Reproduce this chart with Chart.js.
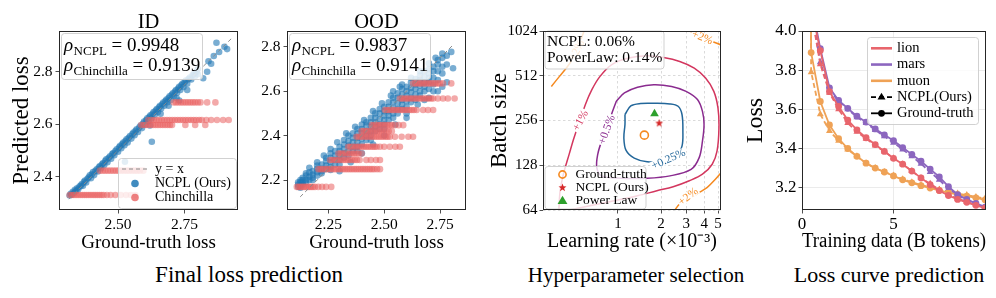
<!DOCTYPE html>
<html>
<head>
<meta charset="utf-8">
<script src="https://cdn.jsdelivr.net/npm/chart.js@4.4.1/dist/chart.umd.min.js"></script>
<style>
  body { margin: 0; background: #fff; }
  #wrap { position: relative; width: 996px; height: 298px; overflow: hidden; font-family: 'Liberation Serif', 'Times New Roman', serif; }
  canvas { position: absolute; top: 0; }
  .ttl { position: absolute; top: 10.5px; font-size: 20.5px; line-height: 1; transform: translateX(-50%); white-space: nowrap; }
  .cap { position: absolute; top: 263.5px; font-size: 22px; line-height: 1; transform: translateX(-50%); white-space: nowrap; }
</style>
</head>
<body>
<div id="wrap">
  <canvas id="c1" width="245" height="260" style="left:0px"></canvas>
  <canvas id="c2" width="235" height="260" style="left:245px"></canvas>
  <canvas id="c3" width="260" height="260" style="left:480px"></canvas>
  <canvas id="c4" width="256" height="260" style="left:740px"></canvas>
  <div class="ttl" style="left:148.5px">ID</div>
  <div class="ttl" style="left:376.5px">OOD</div>
  <div class="cap" style="left:249px;font-size:23px;top:263px">Final loss prediction</div>
  <div class="cap" style="left:636px;font-size:21px;top:264.5px">Hyperparameter selection</div>
  <div class="cap" style="left:889px">Loss curve prediction</div>
</div>
<script>
// ---------- panel 1: ID ----------
const idDiag = [2.315, 2.93];
const idNcpl = [
  [2.318,2.328],[2.322,2.335],[2.326,2.331],[2.33,2.342],[2.334,2.338],[2.338,2.35],[2.342,2.345],[2.346,2.356],
  [2.35,2.352],[2.355,2.362],[2.36,2.366],[2.364,2.372],[2.368,2.365],[2.372,2.38],[2.376,2.385],[2.38,2.378],
  [2.385,2.392],[2.39,2.398],[2.394,2.405],[2.398,2.394],[2.402,2.41],[2.406,2.418],[2.41,2.406],[2.415,2.422],
  [2.42,2.428],[2.424,2.42],[2.428,2.436],[2.432,2.44],[2.436,2.432],[2.44,2.447],[2.444,2.452],[2.448,2.444],
  [2.452,2.46],[2.456,2.466],[2.46,2.455],[2.465,2.472],[2.47,2.478],[2.474,2.468],[2.478,2.486],[2.482,2.49],
  [2.486,2.482],[2.49,2.498],[2.495,2.504],[2.5,2.495],[2.504,2.512],[2.508,2.518],[2.512,2.508],[2.516,2.524],
  [2.52,2.53],[2.524,2.52],[2.528,2.536],[2.532,2.542],[2.536,2.53],[2.54,2.548],[2.545,2.555],[2.55,2.545],
  [2.554,2.562],[2.558,2.568],[2.562,2.558],[2.566,2.575],[2.57,2.58],[2.575,2.57],[2.58,2.588],[2.585,2.595],
  [2.59,2.585],[2.594,2.602],[2.598,2.61],[2.602,2.598],[2.606,2.616],[2.61,2.622],[2.614,2.61],[2.618,2.628],
  [2.622,2.634],[2.626,2.622],[2.63,2.64],[2.634,2.646],[2.638,2.636],[2.642,2.652],[2.646,2.658],[2.65,2.646],
  [2.654,2.664],[2.658,2.67],[2.662,2.66],[2.666,2.676],[2.67,2.682],[2.674,2.67],[2.678,2.688],[2.682,2.694],
  [2.686,2.684],[2.69,2.7],[2.694,2.706],[2.698,2.692],[2.702,2.712],[2.706,2.718],[2.71,2.706],[2.714,2.724],
  [2.718,2.73],[2.722,2.72],[2.726,2.736],[2.73,2.742],[2.734,2.73],[2.738,2.748],[2.742,2.754],[2.746,2.742],
  [2.75,2.76],[2.755,2.766],[2.76,2.754],[2.765,2.772],[2.77,2.778],[2.775,2.77],[2.78,2.786],[2.785,2.792],
  [2.79,2.784],[2.795,2.8],[2.8,2.79],[2.627,2.533],[2.526,2.457],[2.82,2.775],[2.835,2.8],[2.85,2.83],
  [2.86,2.86],[2.87,2.91],[2.88,2.875],[2.9,2.895],[2.91,2.886],[2.84,2.84],[2.73,2.69],[2.72,2.70],
  [2.80,2.81],[2.76,2.73],[2.69,2.67],[2.66,2.64],[2.62,2.595]
];
const idChinLevels = [2.330, 2.423, 2.597, 2.616, 2.683];
const idChinX = [
  [2.318,2.326,2.334,2.342,2.35,2.358,2.366,2.374,2.382,2.39,2.398,2.406,2.414,2.422,2.43,2.438,2.446,2.458,2.472,2.49,2.51,2.53,2.548,2.565],
  [2.432,2.442,2.452,2.462,2.472,2.482,2.492,2.502,2.512,2.522,2.532,2.542,2.552,2.562,2.572,2.582,2.595],
  [2.587,2.596,2.605,2.614,2.623,2.632,2.641,2.65,2.659,2.668,2.677,2.686,2.695,2.703,2.753,2.79,2.828],
  [2.614,2.624,2.634,2.644,2.654,2.664,2.674,2.684,2.694,2.704,2.714,2.724,2.734,2.744,2.754,2.764,2.774,2.784,2.794,2.805,2.815,2.832,2.85,2.872,2.895,2.916],
  [2.709,2.718,2.727,2.736,2.745,2.754,2.763,2.772,2.781,2.79,2.8,2.81,2.835,2.866]
];
const idTicksX = [2.50, 2.75];
const idTicksY = [2.4, 2.6, 2.8];
const idRho = ['0.9948', '0.9139'];

// ---------- panel 2: OOD ----------
const oodDiag = [2.124, 2.808];
const oodNcpl = [
  [2.115,2.17],[2.115,2.18],[2.115,2.19],[2.125,2.175],[2.125,2.19],[2.125,2.2],[2.125,2.165],[2.135,2.18],
  [2.135,2.2],[2.135,2.21],[2.135,2.19],[2.15,2.19],[2.15,2.2],[2.15,2.22],[2.15,2.23],[2.165,2.2],[2.165,2.215],
  [2.165,2.255],[2.165,2.235],[2.18,2.21],[2.18,2.225],[2.18,2.24],[2.18,2.2],[2.2,2.22],[2.2,2.235],[2.2,2.25],
  [2.2,2.265],[2.22,2.23],[2.22,2.25],[2.22,2.27],[2.22,2.24],[2.24,2.25],[2.24,2.265],[2.24,2.285],[2.24,2.3],
  [2.26,2.26],[2.26,2.28],[2.26,2.3],[2.26,2.32],[2.26,2.245],[2.28,2.27],[2.28,2.29],[2.28,2.31],[2.28,2.33],
  [2.3,2.29],[2.3,2.31],[2.3,2.33],[2.3,2.35],[2.3,2.27],[2.32,2.3],[2.32,2.32],[2.32,2.34],[2.32,2.36],[2.32,2.38],
  [2.34,2.31],[2.34,2.33],[2.34,2.355],[2.34,2.375],[2.34,2.4],[2.36,2.33],[2.36,2.35],[2.36,2.37],[2.36,2.39],
  [2.36,2.41],[2.38,2.35],[2.38,2.37],[2.38,2.39],[2.38,2.41],[2.38,2.43],[2.38,2.33],[2.4,2.36],[2.4,2.385],
  [2.4,2.41],[2.4,2.43],[2.4,2.45],[2.42,2.38],[2.42,2.4],[2.42,2.42],[2.42,2.445],[2.42,2.46],[2.44,2.4],
  [2.44,2.42],[2.44,2.44],[2.44,2.46],[2.44,2.48],[2.44,2.38],[2.46,2.42],[2.46,2.44],[2.46,2.46],[2.46,2.48],
  [2.46,2.5],[2.48,2.43],[2.48,2.45],[2.48,2.475],[2.48,2.5],[2.48,2.52],[2.5,2.45],[2.5,2.47],[2.5,2.49],
  [2.5,2.51],[2.5,2.53],[2.5,2.43],[2.52,2.47],[2.52,2.49],[2.52,2.51],[2.52,2.53],[2.52,2.55],[2.54,2.48],
  [2.54,2.5],[2.54,2.525],[2.54,2.55],[2.54,2.57],[2.54,2.6],[2.56,2.5],[2.56,2.52],[2.56,2.545],[2.56,2.57],
  [2.56,2.59],[2.58,2.52],[2.58,2.54],[2.58,2.56],[2.58,2.585],[2.58,2.61],[2.58,2.63],[2.6,2.53],[2.6,2.555],
  [2.6,2.58],[2.6,2.6],[2.6,2.62],[2.6,2.5],[2.62,2.55],[2.62,2.57],[2.62,2.595],[2.62,2.615],[2.62,2.64],
  [2.64,2.56],[2.64,2.585],[2.64,2.61],[2.64,2.63],[2.64,2.655],[2.66,2.58],[2.66,2.6],[2.66,2.625],[2.66,2.65],
  [2.66,2.67],[2.68,2.6],[2.68,2.62],[2.68,2.64],[2.68,2.665],[2.68,2.69],[2.7,2.61],[2.7,2.64],[2.7,2.66],
  [2.7,2.68],[2.7,2.7],[2.7,2.57],[2.72,2.63],[2.72,2.66],[2.72,2.69],[2.72,2.71],[2.74,2.65],[2.74,2.69],
  [2.74,2.72],[2.74,2.74],[2.74,2.6],[2.76,2.68],[2.76,2.71],[2.76,2.75],[2.78,2.64],[2.78,2.76],[2.78,2.72],
  [2.808,2.703],[2.80,2.777],
  [2.2,2.28],[2.23,2.31],[2.26,2.34],[2.29,2.37],[2.33,2.41],[2.37,2.44],[2.41,2.47],[2.45,2.51],[2.49,2.545],
  [2.53,2.58],[2.57,2.62],[2.62,2.66],[2.66,2.69],[2.7,2.725],[2.73,2.75],[2.76,2.77],[2.45,2.36],[2.5,2.40],
  [2.55,2.45],[2.6,2.48],[2.65,2.54],[2.68,2.56],[2.72,2.6],[2.76,2.62],[2.3,2.24],[2.35,2.28],[2.4,2.32]
];
const oodChinLevels = [2.169, 2.249, 2.290, 2.319, 2.350, 2.395, 2.420, 2.447, 2.515, 2.567, 2.635];
const oodChinX = [
  [2.109,2.117,2.125,2.133,2.141,2.149,2.157,2.165,2.173,2.181,2.19,2.205,2.222,2.24,2.263],
  [2.205,2.215,2.225,2.235,2.245,2.255,2.265,2.275,2.285,2.295,2.305,2.315,2.325,2.335,2.345,2.355,2.365,2.375,2.385,2.395,2.405,2.415,2.425,2.435,2.445,2.455,2.468,2.481],
  [2.258,2.268,2.278,2.288,2.298,2.308,2.318,2.328,2.338,2.348,2.358,2.368,2.378,2.39,2.42,2.44,2.463,2.481],
  [2.295,2.305,2.315,2.325,2.335,2.345,2.355,2.365,2.375,2.385,2.399],
  [2.339,2.349,2.359,2.369,2.379,2.389,2.399,2.409,2.419,2.429,2.439,2.449,2.457,2.466,2.481,2.5,2.525,2.55,2.57],
  [2.376,2.386,2.396,2.406,2.416,2.426,2.436,2.446,2.456,2.466,2.476,2.486,2.496,2.506,2.515,2.525,2.548,2.578,2.608,2.629],
  [2.399,2.409,2.419,2.429,2.439,2.449,2.459,2.469,2.479,2.489,2.499,2.509,2.52,2.534],
  [2.444,2.454,2.464,2.474,2.484,2.494,2.504,2.514,2.524,2.534,2.548,2.565,2.585],
  [2.503,2.513,2.523,2.533,2.543,2.553,2.563,2.573,2.583,2.593,2.603,2.613,2.623,2.633,2.645,2.674,2.696,2.719],
  [2.57,2.58,2.59,2.6,2.61,2.62,2.63,2.64,2.65,2.66,2.67,2.68,2.69,2.7,2.71,2.719,2.74,2.763,2.785,2.815],
  [2.629,2.639,2.649,2.659,2.669,2.679,2.689,2.699,2.709,2.719,2.729,2.739,2.749,2.763,2.8]
];
const oodTicksX = [2.25, 2.50, 2.75];
const oodTicksY = [2.2, 2.4, 2.6, 2.8];
const oodRho = ['0.9837', '0.9141'];

// ---------- panel 3: hyperparameter contours (lr x1e-3, batch size) ----------
const lrTicks = [1, 2, 3, 4, 5];
const bsTicks = [64, 128, 256, 512, 1024];
const optGroundTruth = [[1.53, 204]];
const optNcpl = [[1.94, 247]];
const optPowerLaw = [[1.80, 284]];
const cont025 = [[1.12,281],[1.23,321],[1.44,333],[1.78,334],[2.31,331],[2.63,319],[2.80,281],[2.84,217],[2.80,172],
  [2.56,148],[2.08,137],[1.60,135],[1.30,143],[1.14,161],[1.10,196],[1.12,241],[1.12,281]];
const cont05 = [[0.974,345],[1.11,392],[1.37,428],[1.78,446],[2.37,434],[2.99,402],[3.59,354],[3.89,295],[3.99,241],
  [3.89,186],[3.69,144],[3.24,120],[2.31,108.6],[1.60,104.8],[1.05,104.8],[0.77,108.6],[0.712,123.5],[0.723,151.6],
  [0.77,186],[0.811,206],[0.855,241],[0.901,281],[0.974,345]];
const cont1 = [[0.387,64],[0.395,86],[0.416,111],[0.457,152],[0.494,196],[0.593,328],[0.658,413],[0.750,507],
  [0.901,607],[1.17,672],[1.60,697],[2.08,679],[2.70,639],[3.41,576],[4.09,494],[4.67,402],[4.99,311],[5.07,229],
  [4.92,160],[4.55,130],[3.89,111.4],[3.15,100.6],[2.43,91.7],[1.87,86.2],[1.37,79.8],[1.0,74.6],[0.731,70.2],
  [0.535,66],[0.457,64]];
const cont2a = [[0.343,434],[0.391,507],[0.445,591],[0.494,690],[0.535,825],[0.578,1013],[0.585,1024]];
const cont2b = [[3.15,1024],[3.50,988],[4.315,891],[5.24,825]];
const cont2c = [[5.24,114],[4.787,103],[4.205,90.8],[3.69,84],[3.15,76.5],[2.697,70.2],[2.494,64]];
const contLabels = [
  {t: '+0.25%', at: [2.25, 141], rot: -24, c: '#23679a'},
  {t: '+0.5%', at: [0.833, 222], rot: -70, c: '#8a2b8f'},
  {t: '+1%', at: [0.545, 256], rot: -62, c: '#d3365e'},
  {t: '+2%', at: [3.89, 930], rot: 22, c: '#f5891f'},
  {t: '+2%', at: [3.08, 79], rot: -38, c: '#f5891f'},
  {t: '+2%', at: [0.515, 760], rot: -62, c: '#f5891f'}
];

// ---------- panel 4: loss curves ----------
const tokens = [0, 0.5, 1, 1.5, 2, 2.5, 3, 3.5, 4, 4.5, 5, 5.5, 6, 6.5, 7, 7.5, 8, 8.5, 9, 9.5, 10];
const lionGT  = [10.8, 4.12, 3.90, 3.69, 3.615, 3.545, 3.495, 3.455, 3.42, 3.385, 3.35, 3.32, 3.285, 3.25, 3.215, 3.185, 3.16, 3.14, 3.125, 3.11, 3.095];
const lionNC  = [10.8, 4.10, 3.83, 3.685, 3.60, 3.53, 3.485, 3.45, 3.415, 3.385, 3.35, 3.32, 3.285, 3.25, 3.22, 3.19, 3.165, 3.145, 3.128, 3.112, 3.098];
const marsGT  = [10.8, 4.15, 3.91, 3.71, 3.645, 3.605, 3.565, 3.535, 3.50, 3.47, 3.44, 3.405, 3.37, 3.335, 3.295, 3.255, 3.205, 3.165, 3.14, 3.12, 3.10];
const marsNC  = [10.8, 4.12, 3.84, 3.70, 3.64, 3.60, 3.56, 3.53, 3.495, 3.462, 3.43, 3.395, 3.36, 3.322, 3.28, 3.24, 3.195, 3.16, 3.138, 3.12, 3.10];
const muonGT  = [10.8, 3.89, 3.64, 3.52, 3.45, 3.40, 3.36, 3.325, 3.30, 3.28, 3.26, 3.24, 3.225, 3.21, 3.198, 3.186, 3.175, 3.165, 3.157, 3.148, 3.138];
const muonNC  = [10.8, 3.79, 3.575, 3.49, 3.44, 3.395, 3.36, 3.325, 3.30, 3.28, 3.262, 3.243, 3.228, 3.214, 3.202, 3.19, 3.18, 3.17, 3.162, 3.153, 3.145];
const tokTicks = [0, 5];
const lossTicks = [3.2, 3.4, 3.6, 3.8, 4.0];

// ---------- shared helpers ----------
const FONT = "'Liberation Serif', 'Times New Roman', serif";
Chart.defaults.font.family = FONT;
Chart.defaults.color = '#000';
Chart.defaults.animation = false;
Chart.defaults.plugins.legend.display = false;
Chart.defaults.plugins.tooltip.enabled = false;

const BLUE = 'rgba(31,119,180,0.6)', PINK = 'rgba(234,98,98,0.55)';
const LION = '#e8656c', MARS = '#8c66bf', MUON = '#efa256';

const pts = arr => arr.map(([x, y]) => ({x, y}));
const bands = (levels, xs) => levels.flatMap((y, i) => xs[i].map(x => ({x, y})));
const series = (xs, ys) => xs.map((x, i) => ({x, y: ys[i]}));

function scale(c) {
  return {
    type: c.type || 'linear', position: c.pos, min: c.min, max: c.max,
    afterBuildTicks: s => { s.ticks = c.ticks.map(v => ({value: v})); },
    afterFit: s => { if (c.pos === 'left') s.width = c.size; else s.height = c.size; },
    grid: { drawOnChartArea: !!c.grid, color: c.grid || '#fff', lineWidth: 0.8, drawTicks: true,
            tickLength: 3.5, tickColor: '#222', tickWidth: 0.8 },
    border: { display: false, dash: c.dash || [] },
    ticks: { callback: c.fmt, color: '#000', font: {size: c.font || 15.5}, padding: c.tpad, maxRotation: 0, autoSkip: false },
    title: c.title ? { display: true, text: c.title, color: '#000', font: {size: c.tsize}, padding: c.tp } : {display: false}
  };
}

function roundBox(ctx, x, y, w, h) {
  ctx.save();
  ctx.beginPath();
  ctx.roundRect(x + 0.5, y + 0.5, w, h, 3);
  ctx.fillStyle = 'rgba(255,255,255,0.8)';
  ctx.fill();
  ctx.strokeStyle = 'rgba(204,204,204,0.9)';
  ctx.lineWidth = 1;
  ctx.stroke();
  ctx.restore();
}

function rhoLine(ctx, x, y, sub, val) {
  ctx.fillStyle = '#000';
  ctx.textBaseline = 'alphabetic';
  ctx.textAlign = 'left';
  ctx.font = `italic 19px ${FONT}`;
  ctx.fillText('\u03c1', x, y);
  let w = ctx.measureText('\u03c1').width + 0.5;
  ctx.font = `13px ${FONT}`;
  ctx.fillText(sub, x + w, y + 4);
  w += ctx.measureText(sub).width;
  ctx.font = `19px ${FONT}`;
  ctx.fillText(' = ' + val, x + w, y);
}

function dot(ctx, x, y, r, fill, stroke, lw) {
  ctx.beginPath();
  ctx.arc(x, y, r, 0, Math.PI * 2);
  if (fill) { ctx.fillStyle = fill; ctx.fill(); }
  if (stroke) { ctx.strokeStyle = stroke; ctx.lineWidth = lw; ctx.stroke(); }
}
function tri(ctx, x, y, r, fill) {
  ctx.beginPath();
  ctx.moveTo(x, y - r);
  ctx.lineTo(x + r * 0.95, y + r * 0.6);
  ctx.lineTo(x - r * 0.95, y + r * 0.6);
  ctx.closePath();
  ctx.fillStyle = fill;
  ctx.fill();
}
function starPath(ctx, cx, cy, R) {
  ctx.beginPath();
  for (let i = 0; i < 10; i++) {
    const r = i % 2 ? R * 0.42 : R;
    const a = -Math.PI / 2 + i * Math.PI / 5;
    ctx.lineTo(cx + r * Math.cos(a), cy + r * Math.sin(a));
  }
  ctx.closePath();
}
function starImage(R, color) {
  const c = document.createElement('canvas');
  c.width = c.height = Math.ceil(R * 2 + 2);
  const g = c.getContext('2d');
  starPath(g, c.width / 2, c.height / 2 + 0.5, R);
  g.fillStyle = color;
  g.fill();
  return c;
}

function decor(draw) {
  return {
    id: 'decor',
    afterDatasetsDraw(chart) { const ctx = chart.ctx; ctx.save(); draw(chart, ctx, chart.chartArea); ctx.restore(); },
    afterDraw(chart) {
      const a = chart.chartArea, ctx = chart.ctx;
      ctx.save();
      ctx.strokeStyle = '#262626';
      ctx.lineWidth = 1;
      const l = Math.round(a.left), t = Math.round(a.top), r = Math.round(a.right), b = Math.round(a.bottom);
      ctx.strokeRect(l + 0.5, t + 0.5, r - l - 1, b - t - 1);
      ctx.restore();
    }
  };
}

const baseOpts = (pad) => ({ responsive: false, layout: { padding: pad }, events: [] });

// ---------- charts 1 and 2 ----------
function scatterCfg(diag, ncpl, chin, xr, yr, xt, yt, ysize, ytitle, rho, pad, withLegend) {
  return {
    type: 'scatter',
    data: { datasets: [
      { data: pts([[diag[0], diag[0]], [diag[1], diag[1]]]), showLine: true, borderColor: '#8a8a8a',
        borderWidth: 1, borderDash: [4, 3], pointRadius: 0 },
      { data: chin, pointRadius: 3.3, backgroundColor: PINK, borderWidth: 0 },
      { data: ncpl, pointRadius: 3.3, backgroundColor: BLUE, borderWidth: 0 }
    ]},
    options: Object.assign(baseOpts(pad), {
      scales: {
        x: scale({pos: 'bottom', min: xr[0], max: xr[1], ticks: xt, fmt: v => v.toFixed(2), size: 50, tpad: 2,
                  title: 'Ground-truth loss', tsize: 19, tp: {top: 0, bottom: 5.7}}),
        y: scale({pos: 'left', min: yr[0], max: yr[1], ticks: yt, fmt: v => v.toFixed(1), size: ysize, tpad: 3,
                  title: ytitle, tsize: 23, tp: {top: 8, bottom: 0}})
      }
    }),
    plugins: [decor((chart, ctx, a) => {
      roundBox(ctx, a.left + 2, a.top + 2, 141, 46);
      rhoLine(ctx, a.left + 5, a.top + 19.5, 'NCPL', rho[0]);
      rhoLine(ctx, a.left + 5, a.top + 39.5, 'Chinchilla', rho[1]);
      if (withLegend) {
        const w = 118, h = 50, bx = a.right - 2 - w, by = a.bottom - 2 - h;
        roundBox(ctx, bx, by, w, h);
        ctx.save();
        ctx.strokeStyle = '#8a8a8a'; ctx.lineWidth = 1.2; ctx.setLineDash([4, 3]);
        ctx.beginPath(); ctx.moveTo(bx + 4, by + 11); ctx.lineTo(bx + 30, by + 11); ctx.stroke();
        ctx.restore();
        dot(ctx, bx + 17, by + 25.5, 3.8, 'rgba(31,119,180,0.85)');
        dot(ctx, bx + 17, by + 39.5, 3.8, 'rgba(234,98,98,0.8)');
        ctx.fillStyle = '#000'; ctx.font = `14px ${FONT}`; ctx.textBaseline = 'middle'; ctx.textAlign = 'left';
        ctx.fillText('y = x', bx + 37, by + 11);
        ctx.fillText('NCPL (Ours)', bx + 37, by + 25.5);
        ctx.fillText('Chinchilla', bx + 37, by + 39.5);
      }
    })]
  };
}

new Chart(document.getElementById('c1'), scatterCfg(idDiag, pts(idNcpl), bands(idChinLevels, idChinX),
  [2.278, 2.951], [2.273, 2.955], idTicksX, idTicksY, 59, 'Predicted loss', idRho,
  {left: 0, right: 7, top: 31, bottom: 0}, true));

new Chart(document.getElementById('c2'), scatterCfg(oodDiag, pts(oodNcpl), bands(oodChinLevels, oodChinX),
  [2.065, 2.866], [2.065, 2.871], oodTicksX, oodTicksY, 42, null, oodRho,
  {left: 0, right: 14, top: 31, bottom: 0}, false));

// ---------- chart 3 ----------
const C025 = '#23679a', C05 = '#8a2b8f', C1 = '#d3365e', C2 = '#f5891f';
const GT_OR = '#f5891f', STAR_RED = '#d62728', TRI_GREEN = '#2ca02c';
const starImg = starImage(4.2, STAR_RED);
const contour = (arr, color) => ({ data: pts(arr), showLine: true, borderColor: color, borderWidth: 1.5,
  pointRadius: 0, tension: 0.35 });

new Chart(document.getElementById('c3'), {
  type: 'scatter',
  data: { datasets: [
    { data: pts(optPowerLaw), pointStyle: 'triangle', pointRadius: 5, backgroundColor: TRI_GREEN, borderColor: TRI_GREEN, borderWidth: 0 },
    { data: pts(optNcpl), pointStyle: starImg, pointRadius: 5 },
    { data: pts(optGroundTruth), pointStyle: 'circle', pointRadius: 4, backgroundColor: 'rgba(0,0,0,0)', borderColor: GT_OR, borderWidth: 1.6 },
    contour(cont025, C025), contour(cont05, C05), contour(cont1, C1),
    contour(cont2a, C2), contour(cont2b, C2), contour(cont2c, C2)
  ]},
  options: Object.assign(baseOpts({left: 0, right: 19, top: 31, bottom: 0}), {
    scales: {
      x: scale({type: 'logarithmic', pos: 'bottom', min: 0.325, max: 5.24, ticks: lrTicks, fmt: v => String(v),
                size: 50, tpad: 1.5, font: 15, grid: '#d0d0d0', dash: [2.5, 2.5],
                title: 'Learning rate (\u00d710\u207b\u00b3)', tsize: 20, tp: {top: 0, bottom: 6.5}}),
      y: scale({type: 'logarithmic', pos: 'left', min: 64, max: 1024, ticks: bsTicks, fmt: v => String(v),
                size: 63, tpad: 2, font: 15, grid: '#d0d0d0', dash: [2.5, 2.5],
                title: 'Batch size', tsize: 23, tp: {top: 6, bottom: 0}})
    }
  }),
  plugins: [decor((chart, ctx, a) => {
    const sx = chart.scales.x, sy = chart.scales.y;
    ctx.font = `11.5px ${FONT}`;
    ctx.textAlign = 'center'; ctx.textBaseline = 'middle';
    contLabels.forEach(l => {
      ctx.save();
      ctx.translate(sx.getPixelForValue(l.at[0]), sy.getPixelForValue(l.at[1]));
      ctx.rotate(l.rot * Math.PI / 180);
      const w = ctx.measureText(l.t).width;
      ctx.fillStyle = '#fff';
      ctx.fillRect(-w / 2 - 1, -4.5, w + 2, 9);
      ctx.fillStyle = l.c;
      ctx.fillText(l.t, 0, 0.5);
      ctx.restore();
    });
    // text box
    roundBox(ctx, a.left + 1.5, a.top - 0.5, 119, 38);
    ctx.fillStyle = '#000'; ctx.textAlign = 'left'; ctx.textBaseline = 'alphabetic';
    ctx.font = `15.5px ${FONT}`;
    ctx.fillText('NCPL: 0.06%', a.left + 4, a.top + 14.5);
    ctx.fillText('PowerLaw: 0.14%', a.left + 4, a.top + 31);
    // legend
    const bx = a.left + 1.5, by = a.bottom - 44, w = 101, h = 42.5;
    roundBox(ctx, bx, by, w, h);
    dot(ctx, bx + 18, by + 8.5, 3.6, null, GT_OR, 1.6);
    starPath(ctx, bx + 18, by + 21.8, 4.2); ctx.fillStyle = STAR_RED; ctx.fill();
    tri(ctx, bx + 18, by + 35, 5.2, TRI_GREEN);
    ctx.fillStyle = '#000'; ctx.font = `13.5px ${FONT}`; ctx.textBaseline = 'middle';
    ctx.fillText('Ground-truth', bx + 31, by + 8.5);
    ctx.fillText('NCPL (Ours)', bx + 31, by + 21.5);
    ctx.fillText('Power Law', bx + 31, by + 34.5);
  })]
});

// ---------- chart 4 ----------
const curve = (ys, color, nc) => ({
  data: series(tokens, ys), showLine: true, borderColor: color, borderWidth: 1.8,
  borderDash: nc ? [5, 3] : [], pointStyle: nc ? 'triangle' : 'circle', pointRadius: nc ? 4 : 3.4,
  backgroundColor: color, pointBorderWidth: 0, tension: 0
});

new Chart(document.getElementById('c4'), {
  type: 'scatter',
  data: { datasets: [
    curve(lionGT, LION, false), curve(marsGT, MARS, false), curve(muonGT, MUON, false),
    curve(lionNC, LION, true), curve(marsNC, MARS, true), curve(muonNC, MUON, true)
  ]},
  options: Object.assign(baseOpts({left: 0, right: 10, top: 31, bottom: 0}), {
    scales: {
      x: scale({pos: 'bottom', min: 0, max: 10.05, ticks: tokTicks, fmt: v => String(v), size: 50, tpad: 0.6,
                font: 17, grid: '#e6e6e6', title: 'Training data (B tokens)', tsize: 20, tp: {top: 0, bottom: 6.5}}),
      y: scale({pos: 'left', min: 3.086, max: 4.0, ticks: lossTicks, fmt: v => v.toFixed(1), size: 62, tpad: 2,
                font: 17, grid: '#e6e6e6', title: 'Loss', tsize: 24, tp: {top: 1, bottom: 0}})
    }
  }),
  plugins: [decor((chart, ctx, a) => {
    const w = 111, h = 87, bx = a.right - 8 - w, by = a.top + 6;
    roundBox(ctx, bx, by, w, h);
    const rows = [
      {t: 'lion', c: LION}, {t: 'mars', c: MARS}, {t: 'muon', c: MUON},
      {t: 'NCPL(Ours)', c: '#000', nc: true, m: 'tri'}, {t: 'Ground-truth', c: '#000', m: 'dot'}
    ];
    rows.forEach((r, i) => {
      const y = by + 11.3 + i * 16.25;
      ctx.save();
      ctx.strokeStyle = r.c; ctx.lineWidth = r.m ? 1.8 : 2.6;
      if (r.nc) ctx.setLineDash([5, 3]);
      ctx.beginPath(); ctx.moveTo(bx + 4, y); ctx.lineTo(bx + 25, y); ctx.stroke();
      ctx.restore();
      if (r.m === 'tri') tri(ctx, bx + 14.5, y, 4.2, '#000');
      if (r.m === 'dot') dot(ctx, bx + 14.5, y, 3.4, '#000');
      ctx.fillStyle = '#000'; ctx.font = `14.5px ${FONT}`; ctx.textBaseline = 'middle'; ctx.textAlign = 'left';
      ctx.fillText(r.t, bx + 30, y);
    });
  })]
});
</script>
</body>
</html>
